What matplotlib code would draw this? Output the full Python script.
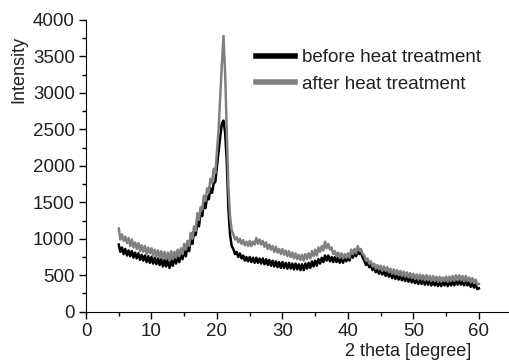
import numpy as np
import matplotlib
matplotlib.use("Agg")
import matplotlib.pyplot as plt
from matplotlib.lines import Line2D

# 2 theta scan, 5..60 deg, 0.25 deg per point
theta_start = 5.0
theta_step = 0.25

# after heat treatment (grey)
after = [
    1140, 990, 1060, 970,   1030, 940, 1010, 900,   990, 880, 950, 860,
    940, 830, 910, 820,     900, 790, 880, 800,     870, 770, 850, 760,
    840, 740, 830, 730,     820, 720, 810, 700,     830, 720, 820, 740,
    850, 760, 870, 790,     930, 850, 970, 900,     1080, 1000, 1170, 1110,
    1350, 1260, 1430, 1400, 1590, 1520, 1690, 1640, 1820, 1760, 1960, 1900,
    2200, 2500, 2950, 3400, 3780, 3250, 2500, 1700, 1300, 1120, 1060, 990,
    1020, 950, 1000, 930,   980, 910, 960, 900,     970, 900, 960, 920,
    1010, 930, 990, 920,    970, 890, 950, 860,     920, 850, 900, 820,
    890, 810, 860, 790,     860, 780, 840, 760,     830, 750, 810, 730,
    800, 720, 780, 710,     780, 700, 790, 720,     800, 730, 830, 760,
    850, 770, 880, 820,     900, 840, 960, 870,     930, 850, 880, 790,
    830, 760, 810, 740,     800, 730, 790, 740,     800, 740, 850, 790,
    860, 800, 900, 840,     860, 790, 770, 700,     730, 660, 690, 620,
    660, 590, 640, 580,     630, 560, 620, 560,     610, 540, 590, 520,
    580, 510, 570, 500,     560, 490, 550, 480,     540, 470, 530, 460,
    520, 450, 510, 440,     510, 440, 500, 430,     500, 430, 490, 420,
    490, 420, 480, 410,     480, 410, 470, 420,     480, 410, 480, 420,
    490, 420, 500, 430,     500, 430, 490, 420,     490, 420, 470, 400,
    460, 390, 440, 370,     380,
]

# before heat treatment (black)
before = [
    920, 820, 880, 790,     860, 770, 840, 760,     830, 740, 810, 730,
    800, 710, 780, 700,     770, 680, 760, 670,     750, 660, 740, 650,
    730, 640, 720, 620,     710, 620, 730, 600,     720, 630, 740, 660,
    760, 680, 800, 720,     840, 760, 900, 830,     1000, 930, 1100, 1050,
    1240, 1170, 1350, 1310, 1490, 1420, 1580, 1540, 1690, 1630, 1760, 1780,
    2000, 2200, 2400, 2580, 2620, 2450, 2050, 1400, 1050, 900, 860, 790,
    820, 750, 800, 730,     770, 700, 750, 690,     750, 680, 740, 670,
    740, 670, 730, 660,     730, 650, 720, 640,     710, 630, 700, 620,
    690, 610, 680, 600,     680, 600, 670, 590,     670, 590, 660, 580,
    660, 580, 650, 570,     650, 570, 660, 590,     670, 600, 690, 620,
    700, 630, 720, 660,     740, 680, 770, 700,     770, 690, 750, 680,
    750, 680, 740, 670,     740, 670, 750, 690,     760, 700, 800, 740,
    810, 760, 840, 790,     810, 740, 700, 640,     680, 610, 640, 570,
    610, 540, 590, 520,     580, 510, 560, 490,     550, 480, 530, 460,
    520, 450, 510, 440,     500, 430, 490, 420,     480, 410, 470, 400,
    460, 390, 450, 380,     450, 380, 440, 370,     440, 370, 430, 360,
    430, 360, 420, 350,     420, 350, 410, 360,     420, 350, 420, 360,
    430, 360, 440, 370,     440, 370, 430, 360,     430, 360, 410, 340,
    400, 330, 380, 310,     320,
]

labels = ['before heat treatment', 'after heat treatment']
x_ticks = [0, 10, 20, 30, 40, 50, 60]
y_ticks = [0, 500, 1000, 1500, 2000, 2500, 3000, 3500, 4000]

theta = theta_start + theta_step * np.arange(len(after))

plt.rcParams['font.family'] = ['Liberation Sans', 'DejaVu Sans']
txt = '#231f20'

fig = plt.figure(figsize=(5.09, 3.62), dpi=100)
ax = fig.add_axes([0.169, 0.139, 0.831, 0.806])

ax.plot(theta, before, color='black', lw=1.8)
ax.plot(theta, after, color='#808080', lw=1.8)

ax.set_xlim(0, 64.6)
ax.set_ylim(0, 4000)
ax.set_xticks(x_ticks)
ax.set_yticks(y_ticks)
ax.set_xticks(np.arange(5, 65, 10), minor=True)
ax.set_yticks(np.arange(250, 4000, 500), minor=True)
ax.spines['top'].set_visible(False)
ax.spines['right'].set_visible(False)
ax.tick_params(which='major', length=5, width=1, colors='black', direction='out')
ax.tick_params(which='minor', length=3, width=1, direction='out')
ax.tick_params(axis='x', labelsize=13.5, labelcolor=txt, pad=3)
ax.tick_params(axis='y', labelsize=13.5, labelcolor=txt, pad=3)

ax.set_xlabel('2 theta [degree]', fontsize=13, color=txt)
ax.xaxis.set_label_coords(0.762, -0.138)
ax.xaxis.label.set_va('center')
ax.set_ylabel('Intensity', fontsize=13, color=txt)
ax.yaxis.set_label_coords(-0.158, 0.829)
ax.yaxis.label.set_va('center')

h1 = Line2D([], [], color='black', lw=4)
h2 = Line2D([], [], color='#808080', lw=4)
leg = ax.legend([h1, h2], labels, loc='upper left', bbox_to_anchor=(0.402, 0.90),
                frameon=False, fontsize=13.5, handlelength=2.1, handletextpad=0.36,
                labelspacing=0.5, borderpad=0, borderaxespad=0)
for t in leg.get_texts():
    t.set_color(txt)

fig.savefig('out.png', dpi=100)
